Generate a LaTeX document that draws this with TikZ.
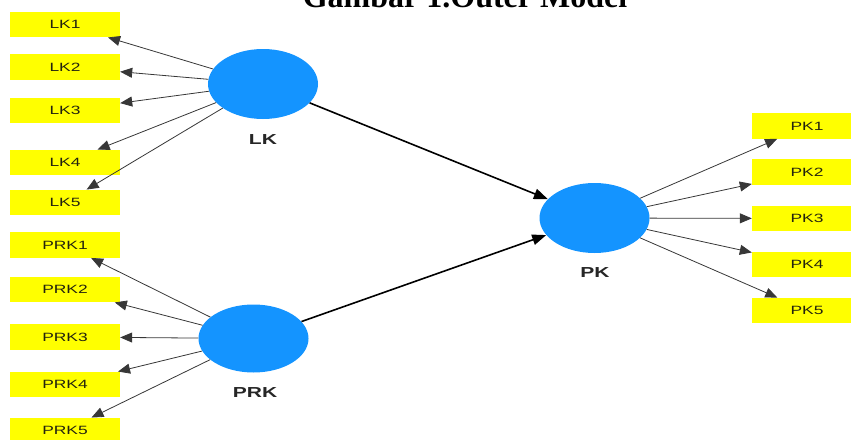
\documentclass[tikz,border=0pt]{standalone}
\usepackage{fontspec}
\setmainfont{Liberation Sans}
\newfontfamily\titlefont{Liberation Serif}
\newfontfamily\boxfont[FakeStretch=1.45]{Liberation Sans}
\usetikzlibrary{arrows.meta,shapes.geometric}
\definecolor{lvblue}{RGB}{20,148,255}
\definecolor{indyellow}{RGB}{255,255,0}
\definecolor{indtext}{RGB}{35,35,15}
\definecolor{indline}{RGB}{55,55,55}
\tikzset{
  latent/.style={ellipse,fill=lvblue,draw=none,minimum width=110pt,minimum height=70pt,inner sep=0pt},
  indbox/.style={rectangle,fill=indyellow,draw=none,minimum width=110pt,minimum height=25.5pt,inner sep=0pt,text=indtext,font=\boxfont\fontsize{12}{14}\selectfont},
  lvlabel/.style={font=\boxfont\fontsize{14.5}{16}\selectfont\bfseries,text=black!85,inner sep=0pt},
  indarrow/.style={draw=indline,line width=0.8pt,-{Triangle[length=12pt,width=10pt]}},
  patharrow/.style={draw=black,line width=1.6pt,-{Triangle[length=14pt,width=10.5pt]}}
}
\begin{document}
\begin{tikzpicture}[x=1pt,y=-1pt]
\useasboundingbox (0,0) rectangle (851,439);
\clip (0,0) rectangle (851,439);
% title (cut off at top, as in the reference)
\node[anchor=base,inner sep=0pt,font=\titlefont\fontsize{32}{36}\selectfont\bfseries] (title) at (465,7.5) {Gambar 1.Outer Model};
% latent variables
\node[latent] (LK) at (263,84) {};
\node[latent,minimum height=68pt] (PRK) at (253.5,338.5) {};
\node[latent] (PK) at (594.5,218) {};
\node[lvlabel] (LKl) at (263,140) {LK};
\node[lvlabel] (PRKl) at (255,393) {PRK};
\node[lvlabel] (PKl) at (595,273) {PK};
% indicators LK
\node[indbox] (LK1) at (65,24.5) {LK1};
\node[indbox] (LK2) at (65,67) {LK2};
\node[indbox] (LK3) at (65,110.5) {LK3};
\node[indbox] (LK4) at (65,162.5) {LK4};
\node[indbox] (LK5) at (65,202.5) {LK5};
% indicators PRK
\node[indbox] (PRK1) at (65,245) {PRK1};
\node[indbox] (PRK2) at (65,289.5) {PRK2};
\node[indbox] (PRK3) at (65,337) {PRK3};
\node[indbox] (PRK4) at (65,384.5) {PRK4};
\node[indbox] (PRK5) at (65,430.5) {PRK5};
% indicators PK
\node[indbox] (PK1) at (807,126) {PK1};
\node[indbox] (PK2) at (807,172) {PK2};
\node[indbox] (PK3) at (807,218.5) {PK3};
\node[indbox] (PK4) at (807,264.5) {PK4};
\node[indbox] (PK5) at (807,310.5) {PK5};
% outer arrows
\foreach \i in {1,...,5}{
  \draw[indarrow] (LK) -- (LK\i);
  \draw[indarrow] (PRK) -- (PRK\i);
  \draw[indarrow] (PK) -- (PK\i);
}
% inner arrows
\draw[patharrow] (LK) -- (PK);
\draw[patharrow] (PRK) -- (PK);
\end{tikzpicture}
\end{document}
